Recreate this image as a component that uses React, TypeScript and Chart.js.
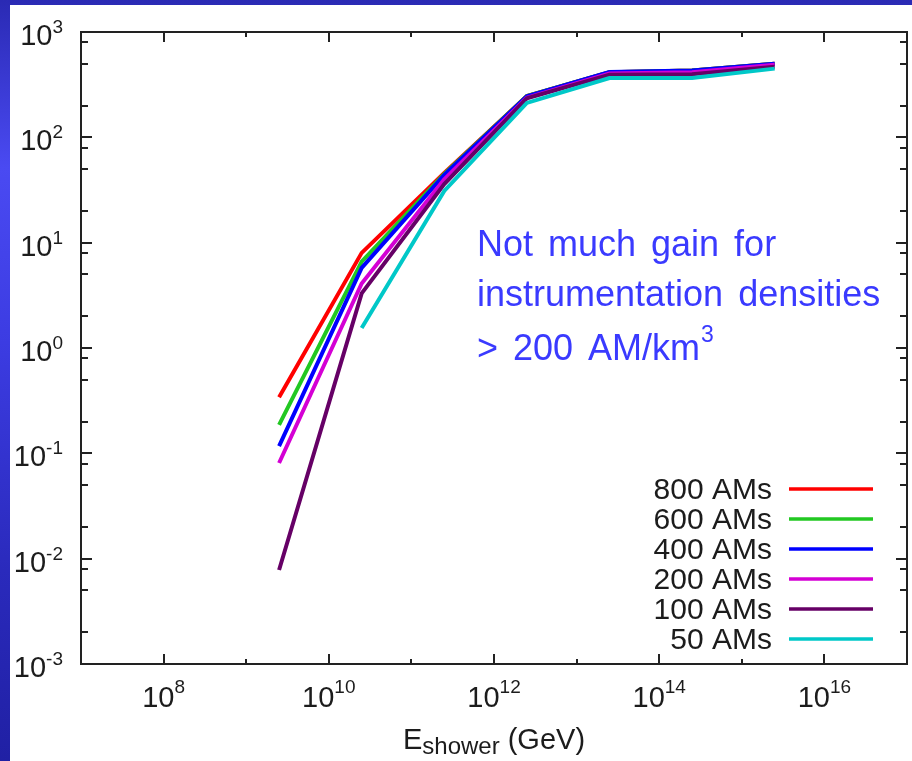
import React, { useEffect, useRef } from "react";
import { Chart, registerables } from "chart.js";

Chart.register(...registerables);

// ---- data ----
const energies = [2.5e9, 2.5e10, 2.5e11, 2.5e12, 2.5e13, 2.5e14, 2.5e15];
const seriesLabels = ["800 AMs", "600 AMs", "400 AMs", "200 AMs", "100 AMs", "50 AMs"];
const seriesColors = ["#ff0000", "#22c822", "#0000ff", "#d400d4", "#660066", "#00c8c8"];
const am800 = [0.34, 8.0, 46, 247, 415, 430, 500];
const am600 = [0.186, 6.6, 45, 247, 415, 430, 500];
const am400 = [0.117, 5.75, 44, 245, 417, 432, 500];
const am200 = [0.081, 4.1, 40, 238, 404, 415, 490];
const am100 = [0.0078, 3.3, 36, 235, 392, 398, 468];
const am50 = [null, 1.55, 31, 212, 366, 366, 449];
const seriesValues = [am800, am600, am400, am200, am100, am50];

const xMajorExps = [8, 10, 12, 14, 16];
const xMinorExps = [9, 11, 13, 15];
const yMajorExps = [-3, -2, -1, 0, 1, 2, 3];
const yMinorMantissas = [2, 5, 8];
const annotationLines = ["Not much gain for", "instrumentation densities", "> 200 AM/km"];
const annotationSup = "3";
const xTitleMain = "E";
const xTitleSub = "shower";
const xTitleRest = " (GeV)";

const FONT = '"Liberation Sans", Arial, Helvetica, sans-serif';
const TEXT = "#1c1c1c";

const decorPlugin = {
  id: "decor",
  afterDatasetsDraw(chart: any) {
    const ctx = chart.ctx;
    const area = chart.chartArea;
    const xs = chart.scales.x;
    const ys = chart.scales.y;
    ctx.save();

    // frame
    ctx.strokeStyle = "#222";
    ctx.lineWidth = 2;
    ctx.strokeRect(area.left, area.top, area.right - area.left, area.bottom - area.top);

    // x ticks (bottom + top, inward)
    const xTick = (exp: number, len: number) => {
      const px = Math.round(xs.getPixelForValue(Math.pow(10, exp)));
      ctx.beginPath();
      ctx.moveTo(px, area.bottom);
      ctx.lineTo(px, area.bottom - len);
      ctx.moveTo(px, area.top);
      ctx.lineTo(px, area.top + len);
      ctx.stroke();
    };
    xMajorExps.forEach((e) => xTick(e, 10));
    xMinorExps.forEach((e) => xTick(e, 5));

    // y ticks (left + right, inward)
    const yTick = (v: number, len: number) => {
      const py = Math.round(ys.getPixelForValue(v));
      ctx.beginPath();
      ctx.moveTo(area.left, py);
      ctx.lineTo(area.left + len, py);
      ctx.moveTo(area.right, py);
      ctx.lineTo(area.right - len, py);
      ctx.stroke();
    };
    yMajorExps.forEach((e) => {
      yTick(Math.pow(10, e), 11);
      if (e < 3) yMinorMantissas.forEach((m) => yTick(m * Math.pow(10, e), 7));
    });

    // tick labels
    ctx.fillStyle = TEXT;
    ctx.textBaseline = "alphabetic";
    const baseFont = `29px ${FONT}`;
    const supFont = `19px ${FONT}`;
    xMajorExps.forEach((e) => {
      const px = xs.getPixelForValue(Math.pow(10, e));
      ctx.font = baseFont;
      const w1 = ctx.measureText("10").width;
      ctx.font = supFont;
      const w2 = ctx.measureText(String(e)).width;
      const x0 = px - (w1 + w2) / 2;
      ctx.textAlign = "left";
      ctx.font = baseFont;
      ctx.fillText("10", x0, 707);
      ctx.font = supFont;
      ctx.fillText(String(e), x0 + w1, 693);
    });
    yMajorExps.forEach((e) => {
      const py = ys.getPixelForValue(Math.pow(10, e));
      const rightX = area.left - 18;
      ctx.font = supFont;
      const w2 = ctx.measureText(String(e)).width;
      ctx.font = baseFont;
      const w1 = ctx.measureText("10").width;
      ctx.textAlign = "left";
      ctx.fillText("10", rightX - w2 - w1, py + 13);
      ctx.font = supFont;
      ctx.fillText(String(e), rightX - w2, py + 1);
    });

    // x-axis title
    ctx.font = baseFont;
    const wE = ctx.measureText(xTitleMain).width;
    const wR = ctx.measureText(xTitleRest).width;
    ctx.font = `24px ${FONT}`;
    const wS = ctx.measureText(xTitleSub).width;
    const total = wE + wS + wR;
    const tx = (area.left + area.right) / 2 - total / 2;
    ctx.textAlign = "left";
    ctx.font = baseFont;
    ctx.fillText(xTitleMain, tx, 749);
    ctx.font = `24px ${FONT}`;
    ctx.fillText(xTitleSub, tx + wE, 754);
    ctx.font = baseFont;
    ctx.fillText(xTitleRest, tx + wE + wS, 749);

    // legend
    const ds = chart.data.datasets;
    ds.forEach((d: any, i: number) => {
      const y = 489 + i * 30;
      ctx.font = `30px ${FONT}`;
      ctx.textAlign = "right";
      ctx.fillStyle = TEXT;
      ctx.fillText(d.label, 772, y + 10);
      ctx.strokeStyle = d.borderColor;
      ctx.lineWidth = 3.5;
      ctx.beginPath();
      ctx.moveTo(789, y);
      ctx.lineTo(873, y);
      ctx.stroke();
    });

    // annotation
    ctx.fillStyle = "#3a3aff";
    ctx.textAlign = "left";
    const annFont = `36px ${FONT}`;
    const baselines = [256, 306, 360];
    if ("wordSpacing" in ctx) (ctx as any).wordSpacing = "5px";
    annotationLines.forEach((t, i) => {
      ctx.font = annFont;
      ctx.fillText(t, 477, baselines[i]);
      if (i === annotationLines.length - 1) {
        const w = ctx.measureText(t).width;
        ctx.font = `23px ${FONT}`;
        ctx.fillText(annotationSup, 477 + w + 1, baselines[i] - 18);
      }
    });

    ctx.restore();
  },
};

export default function App() {
  const ref = useRef<HTMLCanvasElement | null>(null);

  useEffect(() => {
    if (!ref.current) return;
    const chart = new Chart(ref.current, {
      type: "line",
      data: {
        datasets: seriesLabels.map((label, i) => ({
          label,
          data: energies.map((e, j) => ({ x: e, y: seriesValues[i][j] })),
          borderColor: seriesColors[i],
          backgroundColor: seriesColors[i],
          borderWidth: 4,
          pointRadius: 0,
          tension: 0,
          fill: false,
          spanGaps: false,
          order: seriesLabels.length - 1 - i,
        })),
      },
      options: {
        responsive: false,
        animation: false,
        events: [],
        layout: { padding: { left: 81, top: 32, right: 5, bottom: 97 } },
        plugins: { legend: { display: false }, tooltip: { enabled: false } },
        scales: {
          x: { type: "logarithmic", min: 1e7, max: 1e17, display: false },
          y: { type: "logarithmic", min: 1e-3, max: 1e3, display: false },
        },
      },
      plugins: [decorPlugin],
    } as any);
    return () => chart.destroy();
  }, []);

  return (
    <div
      style={{
        position: "fixed",
        left: 0,
        top: 0,
        width: 912,
        height: 761,
        overflow: "hidden",
        background:
          "linear-gradient(180deg, #2a2ab4 0%, #4a4af2 22%, #3c3ce2 45%, #2a2abc 75%, #2020a4 100%)",
      }}
    >
      <div
        style={{
          position: "absolute",
          left: 10,
          top: 5,
          width: 902,
          height: 756,
          background: "#ffffff",
        }}
      />
      <canvas
        ref={ref}
        width={912}
        height={761}
        style={{ position: "absolute", left: 0, top: 0, width: 912, height: 761 }}
      />
    </div>
  );
}
